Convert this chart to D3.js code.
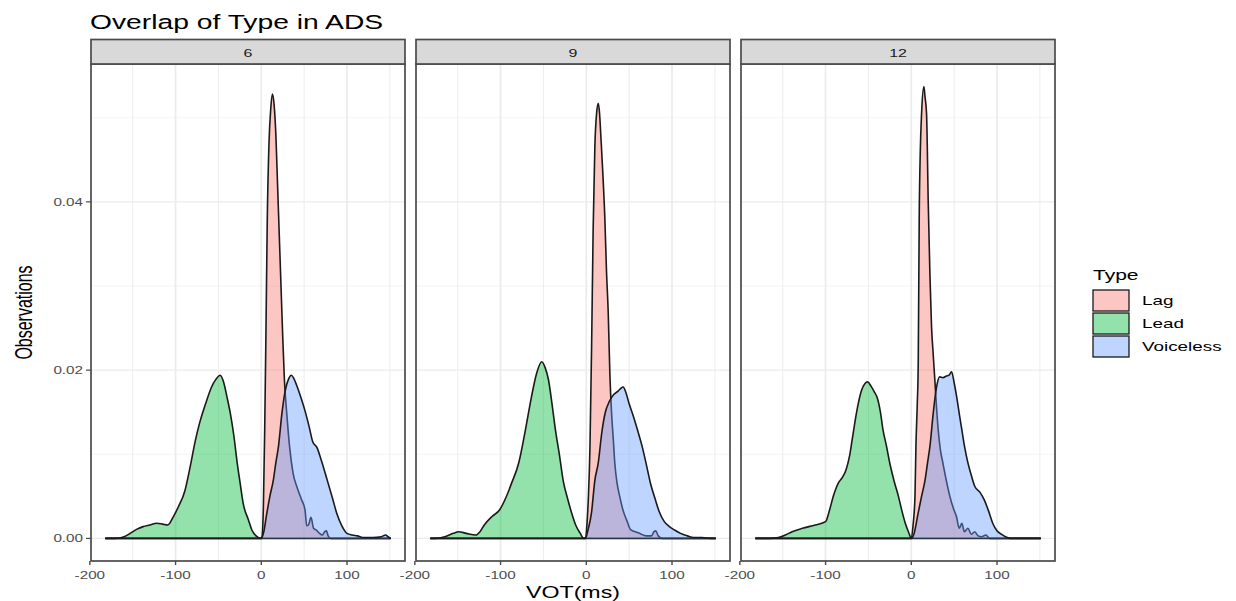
<!DOCTYPE html>
<html>
<head>
<meta charset="utf-8">
<script src="https://cdn.jsdelivr.net/npm/d3@7"></script>
<style>
  body { margin: 0; background: #fff; }
  svg text { font-family: "Liberation Sans", Arial, sans-serif; }
</style>
</head>
<body>
<div id="chart-container"></div>
<script>
// facets, groups and ticks

const panels = ["6", "9", "12"];
const types = ["Lag", "Lead", "Voiceless"];
const typeColors = ["#F8766D", "#00BA38", "#619CFF"];
const xTicks = [-200, -100, 0, 100];
const xMinor = [-150, -50, 50, 150];
const yTicks = [0, 0.02, 0.04];
const yMinor = [0.01, 0.03, 0.05];

// density curves: [VOT (ms), density]

const lag6 = [[-182,0],[0,0],[1,0.0003],[2.5,0.004],[4,0.013],[5.5,0.025],[7,0.038],[9,0.047],[11,0.051],[13,0.0528],[15,0.0515],[17,0.048],[19,0.042],[21,0.036],[23,0.03],[25,0.024],[27,0.0188],[30,0.0145],[33,0.0109],[37,0.0078],[42,0.006],[47,0.0046],[51,0.0034],[53,0.0015],[55,0.0016],[58,0.0025],[61,0.0012],[64,0.001],[68,0.0006],[71,0.0004],[74,0.0008],[76,0.0009],[78,0.0003],[81,0],[151,0]];
const lead6 = [[-182,0],[-170,0],[-160,0.0002],[-153,0.0006],[-145,0.0011],[-138,0.0014],[-130,0.0016],[-122,0.0018],[-115,0.0017],[-109,0.0016],[-103,0.0025],[-97,0.0037],[-89,0.0057],[-83,0.0085],[-77,0.0116],[-72,0.0137],[-65,0.016],[-58,0.018],[-53,0.0189],[-48,0.0194],[-44,0.0186],[-40,0.0168],[-36,0.0148],[-32,0.0122],[-28,0.0089],[-25,0.0068],[-21,0.0041],[-15,0.0022],[-11,0.001],[-5,0.0002],[0,0],[151,0]];
const voiceless6 = [[-182,0],[0,0],[3,0.0008],[6,0.0027],[10,0.005],[14,0.0069],[17,0.009],[20,0.0109],[24,0.0148],[28,0.0176],[32,0.019],[35,0.0194],[38,0.019],[42,0.018],[47,0.0165],[52,0.0148],[56,0.0132],[60,0.0115],[65,0.0108],[70,0.0093],[77,0.0069],[83,0.0048],[88,0.003],[94,0.0015],[100,0.0006],[106,0.0004],[112,0.0003],[120,0.0001],[130,0.0001],[140,0.0002],[145,0.0004],[148,0.0002],[151,0]];

const lag9 = [[-182,0],[-1.5,0],[1,0.002],[2.5,0.005],[4.3,0.0109],[6.2,0.0228],[8,0.0367],[10,0.0466],[12,0.0505],[14,0.0517],[15.5,0.0505],[17,0.0478],[19.5,0.043],[21.7,0.0379],[23.5,0.032],[25.6,0.0268],[27.5,0.0196],[29.5,0.0149],[31.5,0.0118],[33.3,0.0089],[36,0.0065],[39,0.005],[43,0.0033],[47,0.0022],[52,0.001],[57,0.0008],[62,0.0006],[70,0.0003],[76,0.0003],[79,0.0008],[81,0.0009],[84,0.0003],[89,0],[151,0]];
const lead9 = [[-182,0],[-176,0],[-165,0.0002],[-155,0.0006],[-149,0.0008],[-140,0.0006],[-129,0.0004],[-124,0.0008],[-119,0.0016],[-110,0.0026],[-101,0.0034],[-94,0.0048],[-87,0.0066],[-79,0.0089],[-71,0.0129],[-64,0.0168],[-58,0.0196],[-52,0.021],[-48,0.0203],[-44,0.0188],[-40,0.016],[-36,0.0129],[-31,0.0097],[-27,0.0069],[-22,0.0048],[-17,0.003],[-12,0.0015],[-7,0.0006],[-3,0],[151,0]];
const voiceless9 = [[-182,0],[-1,0],[2,0.001],[6,0.003],[10,0.0069],[14,0.009],[18,0.0125],[22,0.0149],[27,0.0163],[32,0.0171],[37,0.0175],[40,0.0178],[43,0.018],[46,0.0174],[50,0.016],[55,0.0145],[60,0.0128],[65,0.011],[70,0.0088],[75,0.0065],[80,0.0048],[85,0.0032],[91,0.002],[97,0.0014],[103,0.001],[110,0.0006],[118,0.0003],[125,0.0001],[135,0.0001],[145,0],[151,0]];

const lag12 = [[-182,0],[0,0],[2,0.0015],[4.3,0.005],[5.4,0.0109],[7,0.016],[8.1,0.0208],[9.3,0.0387],[10.5,0.046],[12,0.0505],[14.7,0.0537],[16,0.0525],[17.8,0.0505],[19.8,0.0398],[21.7,0.0315],[23.6,0.0252],[25.5,0.022],[27.5,0.0188],[29.5,0.0155],[31.4,0.0129],[34,0.0105],[37,0.0089],[41,0.0068],[45,0.005],[49,0.0036],[52.7,0.0026],[56,0.0012],[59,0.0018],[62,0.0008],[66,0.0012],[70,0.0005],[74,0.0008],[78,0.0003],[82,0.0002],[87,0.0004],[91.5,0],[151,0]];
const lead12 = [[-182,0],[-165,0],[-155,0.0001],[-147,0.0004],[-139,0.0008],[-127,0.0012],[-112,0.0016],[-100,0.002],[-95,0.0035],[-91,0.005],[-85,0.0066],[-80,0.0073],[-76,0.0082],[-72,0.0098],[-69,0.0117],[-64,0.0149],[-58,0.0176],[-54,0.0184],[-51,0.0186],[-47,0.0181],[-43,0.0174],[-40,0.0168],[-36,0.015],[-33,0.0129],[-29,0.011],[-25,0.0089],[-20,0.0068],[-15,0.005],[-11,0.0033],[-7,0.0018],[-3,0.0007],[0,0],[151,0]];
const voiceless12 = [[-182,0],[0,0],[3,0.0005],[8,0.003],[12,0.005],[16,0.0069],[19,0.009],[21.7,0.0109],[25.6,0.0149],[29.5,0.018],[33,0.0192],[37,0.0191],[41,0.0193],[44,0.0194],[47,0.0198],[50,0.0185],[53,0.0168],[56,0.0148],[59,0.0129],[62,0.011],[66,0.009],[70,0.0075],[74,0.0062],[80,0.0055],[85,0.0046],[90,0.0033],[95,0.0018],[100,0.0009],[105,0.0005],[110,0.0002],[116,0],[151,0]];

const curves = {
  "6": [lag6, lead6, voiceless6],
  "9": [lag9, lead9, voiceless9],
  "12": [lag12, lead12, voiceless12]
};

// layout (the picture is stretched sideways, so text gets an x scale too)

const width = 1236, height = 601;
const panelLeft = 91, panelWidth = 314, panelGap = 11;
const panelTop = 64, panelBottom = 561, stripTop = 39.5;
const stretch = 1.45;
const borderColor = "#4a4a4a";

const allPoints = panels.flatMap(p => curves[p].flat());

// ggplot style 5% expansion on both scales
const xExt = d3.extent(allPoints, d => d[0]);
const xPad = (xExt[1] - xExt[0]) * 0.05;
const x = d3.scaleLinear()
    .domain([xExt[0] - xPad, xExt[1] + xPad])
    .range([0, panelWidth]);

const yMax = d3.max(allPoints, d => d[1]);
const y = d3.scaleLinear()
    .domain([-yMax * 0.05, yMax * 1.05])
    .range([panelBottom, panelTop]);

const svg = d3.select("#chart-container")
  .append("svg")
    .attr("width", width)
    .attr("height", height);

function addText(sel, str, px, py, size, anchor, color, extra) {
  return sel.append("text")
    .attr("transform", `translate(${px},${py}) scale(${stretch},1)` + (extra || ""))
    .attr("text-anchor", anchor)
    .attr("font-size", size)
    .attr("fill", color)
    .text(str);
}

// title
addText(svg, "Overlap of Type in ADS", 90, 29, 19.5, "start", "#000");

const area = d3.area()
    .x(d => x(d[0]))
    .y0(y(0))
    .y1(d => y(d[1]))
    .curve(d3.curveMonotoneX);

const line = d3.line()
    .x(d => x(d[0]))
    .y(d => y(d[1]))
    .curve(d3.curveMonotoneX);

panels.forEach((p, i) => {
  const left = panelLeft + i * (panelWidth + panelGap);
  const g = svg.append("g").attr("transform", `translate(${left},0)`);

  // grid
  g.selectAll(".xminor").data(xMinor.filter(v => x(v) > 0 && x(v) < panelWidth)).join("line")
    .attr("x1", d => x(d)).attr("x2", d => x(d))
    .attr("y1", panelTop).attr("y2", panelBottom)
    .attr("stroke", "#ebebeb").attr("stroke-width", 0.9);
  g.selectAll(".yminor").data(yMinor).join("line")
    .attr("x1", 0).attr("x2", panelWidth)
    .attr("y1", d => y(d)).attr("y2", d => y(d))
    .attr("stroke", "#ebebeb").attr("stroke-width", 0.6);
  g.selectAll(".xmajor").data(xTicks.filter(v => x(v) > 0)).join("line")
    .attr("x1", d => x(d)).attr("x2", d => x(d))
    .attr("y1", panelTop).attr("y2", panelBottom)
    .attr("stroke", "#ebebeb").attr("stroke-width", 1.7);
  g.selectAll(".ymajor").data(yTicks).join("line")
    .attr("x1", 0).attr("x2", panelWidth)
    .attr("y1", d => y(d)).attr("y2", d => y(d))
    .attr("stroke", "#ebebeb").attr("stroke-width", 1.1);

  // densities, in group order
  curves[p].forEach((c, k) => {
    g.append("path")
      .datum(c)
      .attr("fill", typeColors[k])
      .attr("fill-opacity", 0.42)
      .attr("d", area);
    g.append("path")
      .datum(c)
      .attr("fill", "none")
      .attr("stroke", "#1a1a1a")
      .attr("stroke-width", 1.6)
      .attr("stroke-linejoin", "round")
      .attr("d", line);
  });

  // border
  g.append("rect")
    .attr("x", 0).attr("y", panelTop)
    .attr("width", panelWidth).attr("height", panelBottom - panelTop)
    .attr("fill", "none").attr("stroke", borderColor).attr("stroke-width", 1.7);

  // strip
  g.append("rect")
    .attr("x", 0).attr("y", stripTop)
    .attr("width", panelWidth).attr("height", panelTop - stripTop)
    .attr("fill", "#d9d9d9").attr("stroke", borderColor).attr("stroke-width", 1.7);
  addText(g, p, panelWidth / 2, 57, 11, "middle", "#1a1a1a");

  // x axis
  g.selectAll(".xtick").data(xTicks).join("line")
    .attr("x1", d => x(d)).attr("x2", d => x(d))
    .attr("y1", panelBottom).attr("y2", panelBottom + 4)
    .attr("stroke", borderColor).attr("stroke-width", 1.4);
  xTicks.forEach(t => addText(g, String(t), x(t), 579, 10.5, "middle", "#4d4d4d"));

  // y axis on first panel only
  if (i === 0) {
    g.selectAll(".ytick").data(yTicks).join("line")
      .attr("x1", -5).attr("x2", 0)
      .attr("y1", d => y(d)).attr("y2", d => y(d))
      .attr("stroke", borderColor).attr("stroke-width", 1.2);
    yTicks.forEach(t => addText(g, d3.format(".2f")(t), -8, y(t) + 3.8, 10.5, "end", "#4d4d4d"));
  }
});

// axis titles
addText(svg, "VOT(ms)", 573, 598, 16, "middle", "#000");
addText(svg, "Observations", 32, (panelTop + panelBottom) / 2, 16, "middle", "#000", " rotate(-90)");

// legend
const legend = svg.append("g");
addText(legend, "Type", 1093, 280, 14.5, "start", "#000");
types.forEach((t, k) => {
  const ky = 289 + k * 23;
  legend.append("rect")
    .attr("x", 1093).attr("y", ky + 1)
    .attr("width", 36).attr("height", 21)
    .attr("fill", typeColors[k]).attr("fill-opacity", 0.42)
    .attr("stroke", "#1a1a1a").attr("stroke-width", 1.3);
  addText(legend, t, 1142, ky + 16, 13, "start", "#000");
});
</script>
</body>
</html>
